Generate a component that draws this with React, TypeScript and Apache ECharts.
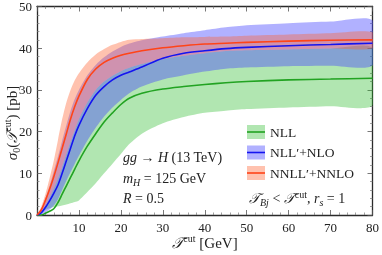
import React, { useEffect, useRef } from 'react';
import * as echarts from 'echarts';

// T^cut values [GeV]
const tcut = [0, 1, 2, 3, 4, 5, 6, 7, 8, 9, 10, 12, 14, 16, 18, 20, 22, 25, 30, 35, 40, 45, 50, 60, 70, 80];

// NLL
const nllCentral = [0, 0, 0.4, 0.9, 1.5, 3.0, 5.0, 7.0, 9.0, 11.0, 13.0, 16.5, 19.5, 22.3, 24.5, 26.5, 28.0, 29.2, 30.2, 30.8, 31.3, 31.7, 32.0, 32.4, 32.6, 32.8];
const nllLo = [0, 0.5, 1.2, 1.6, 1.9, 2.1, 2.3, 2.5, 2.8, 3.1, 3.5, 5.5, 7.6, 10.0, 12.3, 14.6, 17.0, 19.5, 22.0, 23.5, 24.5, 25.0, 25.4, 25.8, 26.1, 26.3];
const nllHi = [0, 0.6, 2.2, 4.2, 6.4, 8.8, 11.6, 14.6, 17.6, 20.4, 23.0, 27.0, 30.0, 32.0, 33.4, 34.5, 35.3, 36.2, 37.4, 38.2, 38.8, 39.3, 39.5, 39.7, 39.9, 40.0];

// NLL'+NLO
const nlopCentral = [0, 0.5, 1.8, 3.4, 5.2, 7.2, 10.0, 13.0, 16.0, 19.0, 21.5, 25.5, 28.7, 30.8, 32.4, 33.5, 34.3, 35.5, 37.6, 38.8, 39.4, 39.9, 40.2, 40.6, 40.9, 41.2];
const nlopLo = [0, 0.1, 0.6, 1.3, 2.3, 3.8, 6.0, 8.2, 10.3, 12.3, 14.2, 17.8, 20.9, 23.6, 25.8, 27.6, 29.2, 30.8, 32.5, 33.5, 34.4, 35.1, 35.4, 35.7, 35.8, 35.9];
const nlopHi = [0, 1.4, 4.0, 7.0, 10.5, 14.0, 17.8, 21.5, 25.0, 27.8, 30.0, 33.5, 36.0, 37.8, 39.2, 40.3, 41.1, 41.9, 42.8, 43.6, 44.3, 45.0, 45.5, 46.0, 46.4, 46.7];

// NNLL'+NNLO
const nnloCentral = [0, 1.2, 3.5, 6.2, 9.2, 12.5, 16.0, 19.5, 23.0, 26.0, 28.5, 32.5, 35.0, 36.6, 37.6, 38.3, 38.8, 39.4, 40.1, 40.6, 41.0, 41.2, 41.4, 41.7, 41.9, 42.0];
const nnloLo = [0, 0.6, 2.2, 4.2, 6.4, 8.8, 11.6, 14.6, 17.6, 20.4, 23.0, 27.0, 30.0, 32.0, 33.4, 34.5, 35.3, 36.2, 37.4, 38.2, 38.8, 39.3, 39.5, 39.7, 39.9, 40.0];
const nnloHi = [0, 2.0, 5.0, 8.8, 13.0, 18.0, 23.0, 27.0, 30.0, 32.3, 34.0, 36.6, 38.5, 39.8, 40.8, 41.5, 42.0, 42.2, 42.4, 42.6, 42.7, 42.8, 43.0, 43.3, 43.6, 43.8];

const seriesNames = ['NLL', 'NLL\u2032+NLO', 'NNLL\u2032+NNLO'];
const xTicks = [0, 10, 20, 30, 40, 50, 60, 70, 80];
const yTicks = [0, 10, 20, 30, 40, 50];

const SERIF = "'Liberation Serif', 'DejaVu Serif', serif";
const lineColors = ['#22a322', '#1414f0', '#ff4418'];
const bandColors = ['rgba(40,185,40,0.36)', 'rgba(70,70,255,0.42)', 'rgba(255,95,45,0.38)'];

const pairs = (ys: number[]) => tcut.map((x, i) => [x, ys[i]]);

function band(key: string, lo: number[], hi: number[], color: string, z: number) {
  return {
    type: 'custom', name: key, z, silent: true, clip: true,
    data: tcut.map((x, i) => [x, lo[i], hi[i]]),
    encode: { x: 0, y: [1, 2] },
    renderItem: (params: any, api: any) => {
      if (params.dataIndexInside !== 0) return null;
      const n = params.dataInsideLength;
      const upper: number[][] = [];
      const lower: number[][] = [];
      for (let i = 0; i < n; i++) {
        const x = api.value(0, i);
        lower.push(api.coord([x, api.value(1, i)]));
        upper.push(api.coord([x, api.value(2, i)]));
      }
      const pts = upper.concat(lower.reverse());
      return { type: 'polygon', shape: { points: pts, smooth: 0.25 }, style: { fill: color, stroke: 'none' } };
    },
  };
}

function central(name: string, ys: number[], color: string) {
  return {
    type: 'line', name, data: pairs(ys), symbol: 'none', smooth: 0.3,
    lineStyle: { color, width: 1.6 }, itemStyle: { color }, z: 5,
  };
}

const richBase = {
  n: { fontFamily: SERIF, fontSize: 14, lineHeight: 18, color: '#222' },
  i: { fontFamily: SERIF, fontSize: 14, lineHeight: 18, fontStyle: 'italic', color: '#222' },
  sup: { fontFamily: SERIF, fontSize: 10, lineHeight: 11, verticalAlign: 'top', color: '#222' },
  sub: { fontFamily: SERIF, fontSize: 10, lineHeight: 11, verticalAlign: 'bottom', color: '#222' },
  isub: { fontFamily: SERIF, fontSize: 10, lineHeight: 11, verticalAlign: 'bottom', fontStyle: 'italic', color: '#222' },
};
const richBig = {
  n: { fontFamily: SERIF, fontSize: 15, lineHeight: 19, color: '#222' },
  i: { fontFamily: SERIF, fontSize: 15, lineHeight: 19, fontStyle: 'italic', color: '#222' },
  sup: { fontFamily: SERIF, fontSize: 10, lineHeight: 10, verticalAlign: 'top', color: '#222' },
  sub: { fontFamily: SERIF, fontSize: 10, lineHeight: 10, verticalAlign: 'bottom', color: '#222' },
};

function txt(x: number, y: number, text: string, rich: any, extra: any = {}) {
  return {
    type: 'text', x, y, z: 20, ...extra,
    style: { text, rich, fontFamily: SERIF, fontSize: 14, lineHeight: 18, fill: '#222', align: 'left', verticalAlign: 'middle', ...(extra.style || {}) },
  };
}

const axisCommon = {
  min: 0,
  axisLine: { onZero: false, lineStyle: { color: '#2a2a2a', width: 1.3 } },
  axisTick: { inside: true, length: 5, lineStyle: { color: '#555', width: 0.8 } },
  minorTick: { show: true, splitNumber: 5, length: 2.5, lineStyle: { color: '#777', width: 0.7 } },
  splitLine: { show: false },
};

export default function App() {
  const ref = useRef<HTMLDivElement>(null);
  useEffect(() => {
    const chart = echarts.init(ref.current!, null, { renderer: 'svg' });
    const legendY = [132, 152.5, 173];
    const option: any = {
      animation: false,
      grid: { left: 37, right: 7, top: 6, bottom: 40 },
      xAxis: [
        {
          type: 'value', ...axisCommon, max: xTicks[xTicks.length - 1], interval: 10, position: 'bottom',
          axisLabel: {
            fontFamily: SERIF, fontSize: 13, color: '#222', margin: 6,
            formatter: (v: number) => (v === 0 ? '' : String(v)),
          },
        },
        { type: 'value', ...axisCommon, max: 80, interval: 10, position: 'top', axisLabel: { show: false } },
      ],
      yAxis: [
        {
          type: 'value', ...axisCommon, max: yTicks[yTicks.length - 1], interval: 10, position: 'left',
          axisLabel: { fontFamily: SERIF, fontSize: 13, color: '#222', margin: 5 },
        },
        { type: 'value', ...axisCommon, max: 50, interval: 10, position: 'right', axisLabel: { show: false } },
      ],
      legend: {
        orient: 'vertical', left: 247, top: 125, padding: 0, itemWidth: 18, itemHeight: 14, itemGap: 6.5,
        textStyle: { fontFamily: SERIF, fontSize: 13.5, color: '#222', lineHeight: 14 },
        data: seriesNames.map((name, k) => ({ name, icon: 'rect', itemStyle: { color: bandColors[k] } })),
        selectedMode: false,
      },
      series: [
        band('nll', nllLo, nllHi, bandColors[0], 1),
        band('nlop', nlopLo, nlopHi, bandColors[1], 2),
        band('nnlo', nnloLo, nnloHi, bandColors[2], 3),
        central(seriesNames[0], nllCentral, lineColors[0]),
        central(seriesNames[1], nlopCentral, lineColors[1]),
        central(seriesNames[2], nnloCentral, lineColors[2]),
      ],
      graphic: [
        ...legendY.map((y, k) => ({
          type: 'line', z: 30, shape: { x1: 247, y1: y, x2: 265, y2: y },
          style: { stroke: lineColors[k], lineWidth: 1.6 },
        })),
        txt(12, 123, '{i|\u03c3}{sub|0}{n|(}{i|\ud835\udcaf}{sup|cut}{n|) [pb]}', richBig, {
          rotation: Math.PI / 2, style: { align: 'center', fontSize: 15, lineHeight: 19 },
        }),
        txt(205, 243, '{i|\ud835\udcaf}{sup|cut}{n| [GeV]}', richBig, {
          style: { align: 'center', fontSize: 15, lineHeight: 19 },
        }),
        txt(123, 157, '{i|gg}{n| \u2192 }{i|H}{n| (13 TeV)}', richBase),
        txt(123, 178, '{i|m}{isub|H}{n| = 125 GeV}', richBase),
        txt(123, 198, '{i|R}{n| = 0.5}', richBase),
        txt(249, 198, '{i|\ud835\udcaf}{isub|Bj}{n| < }{i|\ud835\udcaf}{sup|cut}{n|, }{i|r}{isub|s}{n| = 1}', richBase),
      ],
    };
    chart.setOption(option);
    return () => chart.dispose();
  }, []);
  return <div ref={ref} style={{ position: 'fixed', left: 0, top: 0, width: 382, height: 255 }} />;
}
